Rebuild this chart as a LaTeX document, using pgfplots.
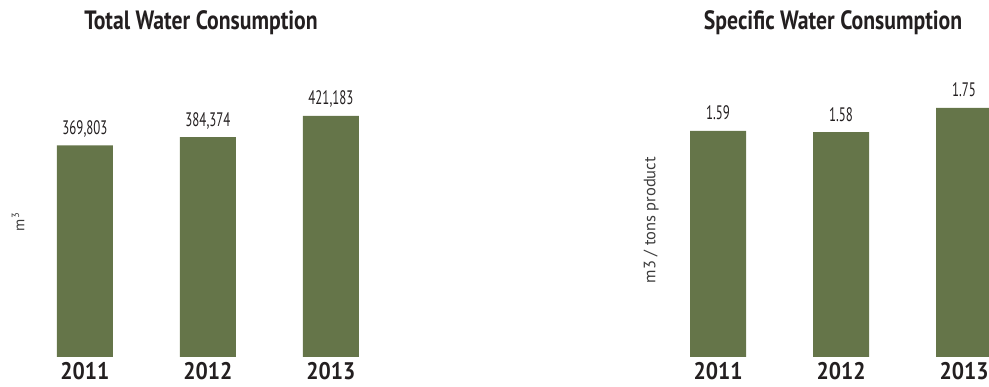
\documentclass[border=0pt]{standalone}
\usepackage{fontspec}
\usepackage{pgfplots}
\pgfplotsset{compat=1.18}
\setmainfont{PT Sans}
\newfontfamily\cfont[FakeStretch=0.66]{PT Sans}
\newfontfamily\bfont[FakeStretch=0.82]{PT Sans}
\newfontfamily\yfont[FakeStretch=0.9]{PT Sans}
\definecolor{bargreen}{RGB}{101,117,73}
\definecolor{txt}{RGB}{35,31,32}
\definecolor{lbl}{RGB}{60,60,60}
\pgfplotsset{
  mybars/.style={
    scale only axis, width=356.7pt, height=297pt,
    xmin=-0.45, xmax=2.45, ymin=0,
    scaled ticks=false,
    axis line style={draw=none}, major tick length=0pt,
    ytick=\empty, xtick={0,1,2}, xticklabels={2011,2012,2013},
    typeset ticklabels with strut=false,
    xticklabel style={font=\yfont\bfseries\fontsize{24}{25}\selectfont, text=txt, inner sep=0pt, anchor=north, text depth=0pt, yshift=-5pt},
    ybar, bar width=56pt,
    nodes near coords,
    every node near coord/.append style={font=\cfont\fontsize{19.5}{20}\selectfont, text=txt, inner sep=0pt, anchor=base, yshift=11pt},
    /pgf/number format/assume math mode=true,
    /pgf/number format/fixed,
    /pgf/number format/1000 sep={,},
    clip=false,
  }
}
\begin{document}
\begin{tikzpicture}[x=1pt,y=1pt]
\begin{axis}[mybars, at={(29.6pt,29pt)}, anchor=south west, ymax=519040,
  /pgf/number format/precision=0,
  ylabel={\fontsize{15}{16}\selectfont m\textsuperscript{3}},
  ylabel style={at={(axis description cs:-0.0325,0.455)}, anchor=center, text=lbl}]
\addplot[fill=bargreen, draw=none] coordinates {(0,369803) (1,384374) (2,421183)};
\end{axis}
\begin{axis}[mybars, at={(662.65pt,29pt)}, anchor=south west, ymax=2.0873,
  ylabel={\fontsize{16.5}{18}\selectfont m3 / tons product},
  ylabel style={at={(axis description cs:-0.0326,0.461)}, anchor=center, text=lbl},
  /pgf/number format/precision=2, /pgf/number format/fixed zerofill]
\addplot[fill=bargreen, draw=none] coordinates {(0,1.59) (1,1.58) (2,1.75)};
\end{axis}
\node[anchor=base, text=txt, font=\bfont\bfseries\fontsize{26.5}{28}\selectfont] at (201,356) {Total Water Consumption};
\node[anchor=base, text=txt, font=\bfont\bfseries\fontsize{26.5}{28}\selectfont] at (833,356) {Specific Water Consumption};
\pgfresetboundingbox
\path[use as bounding box] (0,0) rectangle (989,386);
\end{tikzpicture}
\end{document}
